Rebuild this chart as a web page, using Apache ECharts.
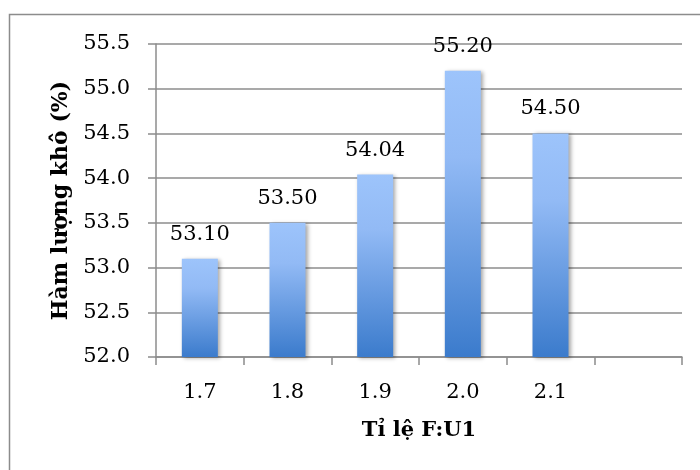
<!DOCTYPE html>
<html>
<head>
<meta charset="utf-8">
<script src="https://cdn.jsdelivr.net/npm/echarts@6/dist/echarts.min.js"></script>
<style>
  html, body { margin: 0; padding: 0; background: #fff; }
  #chart { width: 700px; height: 470px; }
</style>
</head>
<body>
<div id="chart"></div>
<script>
// Ratio categories (the last slot is left empty on the axis)
const ratios = ['1.7', '1.8', '1.9', '2.0', '2.1', ''];
// Dry matter content, %
const dryContent = [53.10, 53.50, 54.04, 55.20, 54.50];
// Value axis range
const yMin = 52.0;
const yMax = 55.5;
const yStep = 0.5;

const serif = 'DejaVu Serif';
const lineGray = '#8c8c8c';

const chart = echarts.init(document.getElementById('chart'), null, { renderer: 'canvas' });

chart.setOption({
  animation: false,
  backgroundColor: '#ffffff',
  graphic: [{
    type: 'rect',
    shape: { x: 9.5, y: 14.5, width: 900, height: 900 },
    style: { fill: 'none', stroke: lineGray, lineWidth: 1.5 },
    silent: true
  }],
  grid: { left: 156, right: 18, top: 44, bottom: 113, containLabel: false },
  xAxis: {
    type: 'category',
    data: ratios,
    name: 'Tỉ lệ F:U1',
    nameLocation: 'middle',
    nameGap: 63,
    nameTextStyle: { fontFamily: serif, fontWeight: 'bold', fontSize: 21, color: '#000' },
    axisLine: { lineStyle: { color: lineGray, width: 1.5 } },
    axisTick: { show: true, length: 8, alignWithLabel: false, lineStyle: { color: lineGray, width: 1.5 } },
    axisLabel: { fontFamily: serif, fontSize: 21, color: '#000', margin: 25 },
    splitLine: { show: false }
  },
  yAxis: {
    type: 'value',
    min: yMin,
    max: yMax,
    interval: yStep,
    name: 'Hàm lượng khô (%)',
    nameLocation: 'middle',
    nameGap: 83,
    nameTextStyle: { fontFamily: serif, fontWeight: 'bold', fontSize: 22, color: '#000' },
    axisLine: { show: true, lineStyle: { color: lineGray, width: 1.5 } },
    axisTick: { show: true, length: 8, lineStyle: { color: lineGray, width: 1.5 } },
    axisLabel: {
      fontFamily: serif, fontSize: 21, color: '#000', margin: 26,
      formatter: v => v.toFixed(1)
    },
    splitLine: { show: true, lineStyle: { color: lineGray, width: 1.5 } }
  },
  series: [{
    type: 'bar',
    data: dryContent,
    barWidth: 36,
    itemStyle: {
      color: new echarts.graphic.LinearGradient(0, 0, 0, 1, [
        { offset: 0, color: '#9dc4fb' },
        { offset: 0.3, color: '#92baf5' },
        { offset: 1, color: '#3b7bcc' }
      ]),
      shadowColor: 'rgba(0,0,0,0.35)',
      shadowBlur: 4,
      shadowOffsetX: 2,
      shadowOffsetY: 1
    },
    label: {
      show: true,
      position: 'top',
      distance: 14,
      fontFamily: serif,
      fontSize: 21,
      color: '#000',
      formatter: p => p.value.toFixed(2)
    }
  }]
});
</script>
</body>
</html>
